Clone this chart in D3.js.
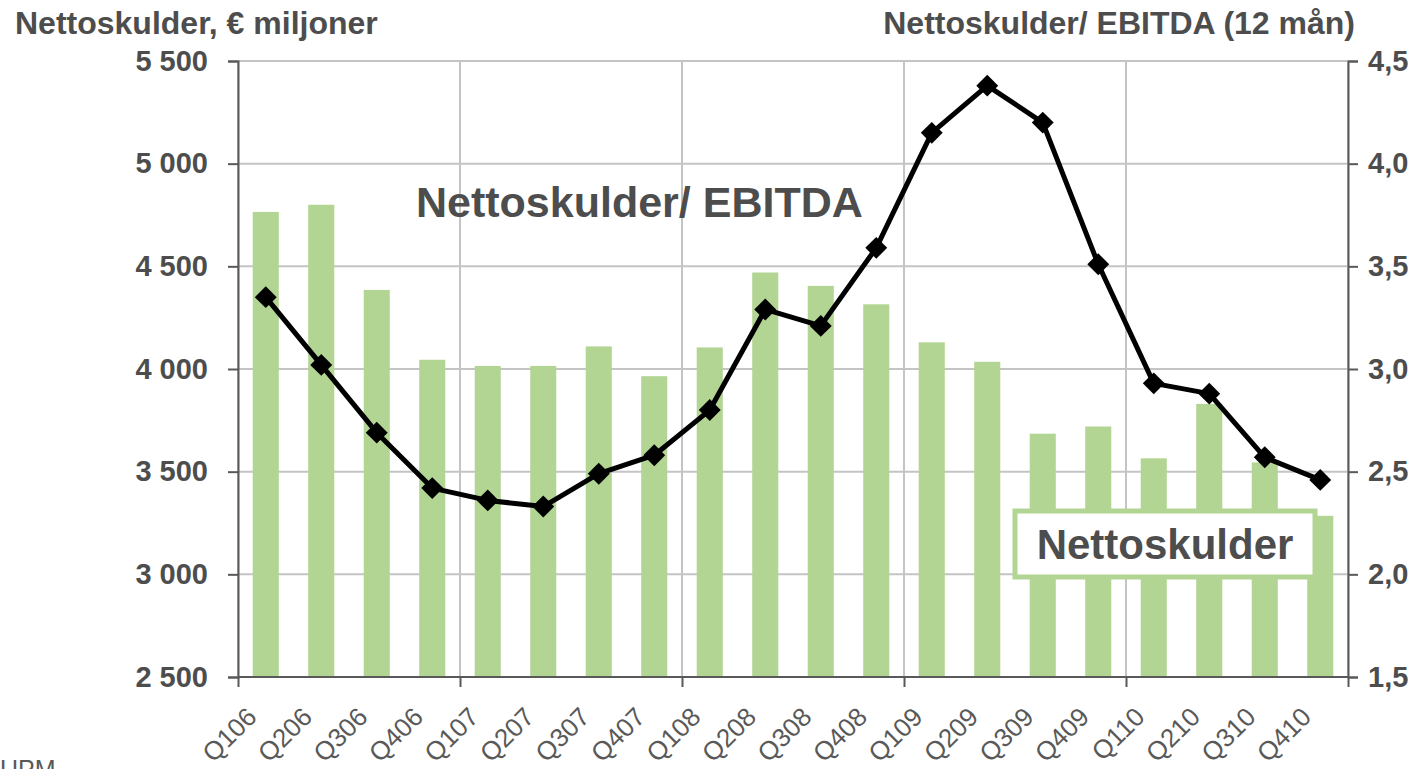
<!DOCTYPE html>
<html>
<head>
<meta charset="utf-8">
<script src="https://cdn.jsdelivr.net/npm/d3@7"></script>
<style>
  body { margin: 0; background: #fff; }
  text { font-family: Arial, "Liberation Sans", sans-serif; }
</style>
</head>
<body>
<svg id="drawing_region"></svg>
<script>
var quarters = ['Q106','Q206','Q306','Q406','Q107','Q207','Q307','Q407','Q108','Q208',
                'Q308','Q408','Q109','Q209','Q309','Q409','Q110','Q210','Q310','Q410'];
var netDebt = [4765, 4800, 4385, 4045, 4015, 4015, 4110, 3965, 4105, 4470,
               4405, 4315, 4130, 4035, 3685, 3720, 3565, 3830, 3545, 3285];
var debtToEbitda = [3.35, 3.02, 2.69, 2.42, 2.36, 2.33, 2.49, 2.58, 2.80, 3.29,
                    3.21, 3.59, 4.15, 4.38, 4.20, 3.51, 2.93, 2.88, 2.57, 2.46];
var leftTicks = [2500, 3000, 3500, 4000, 4500, 5000, 5500];
var rightTicks = [1.5, 2.0, 2.5, 3.0, 3.5, 4.0, 4.5];

class ComboChart {
  constructor( config ) {
    this.config = {
      parent: config.parent,
      width: config.width || 1418,
      height: config.height || 769,
      margin: config.margin
    }
    this.init();
  }

  init() {
    let self = this;
    self.svg = d3.select(self.config.parent)
        .attr('width', self.config.width)
        .attr('height', self.config.height);

    self.inner_width = self.config.width - self.config.margin.left - self.config.margin.right;
    self.inner_height = self.config.height - self.config.margin.top - self.config.margin.bottom;

    self.chart = self.svg.append('g')
        .attr('transform', `translate(${self.config.margin.left}, ${self.config.margin.top})`);

    self.xscale = d3.scaleBand()
        .domain(quarters)
        .range([0, self.inner_width])
        .paddingInner(0.53)
        .paddingOuter(0.265);

    self.yleft = d3.scaleLinear()
        .domain([2500, 5500])
        .range([self.inner_height, 0]);

    self.yright = d3.scaleLinear()
        .domain([1.5, 4.5])
        .range([self.inner_height, 0]);
  }

  render() {
    let self = this;
    let slot = self.inner_width / quarters.length;
    let textColor = '#4d4d4d';

    // horizontal grid
    self.chart.append('g')
        .selectAll('line')
        .data(leftTicks)
        .join('line')
        .attr('x1', 0).attr('x2', self.inner_width)
        .attr('y1', d => self.yleft(d)).attr('y2', d => self.yleft(d))
        .attr('stroke', '#c4c4c4').attr('stroke-width', 2);

    // vertical grid every 4 quarters
    let vgrid = d3.range(0, quarters.length + 1, 4);
    self.chart.append('g')
        .selectAll('line')
        .data(vgrid)
        .join('line')
        .attr('x1', d => d * slot).attr('x2', d => d * slot)
        .attr('y1', 0).attr('y2', self.inner_height)
        .attr('stroke', '#c4c4c4').attr('stroke-width', 2);

    // bars
    self.chart.selectAll('rect.bar')
        .data(netDebt)
        .join('rect')
        .attr('class', 'bar')
        .attr('x', (d, i) => self.xscale(quarters[i]))
        .attr('y', d => self.yleft(d))
        .attr('width', self.xscale.bandwidth())
        .attr('height', d => self.inner_height - self.yleft(d))
        .attr('fill', '#b3d593');

    // axes
    let axisColor = '#595959';
    let leftAxis = self.chart.append('g')
        .call(d3.axisLeft(self.yleft).tickValues(leftTicks).tickSize(10)
              .tickFormat(d => d3.format(',')(d).replace(',', ' ')));
    let rightAxis = self.chart.append('g')
        .attr('transform', `translate(${self.inner_width}, 0)`)
        .call(d3.axisRight(self.yright).tickValues(rightTicks).tickSize(10)
              .tickFormat(d => d3.format('.1f')(d).replace('.', ',')));
    let bottomAxis = self.chart.append('g')
        .attr('transform', `translate(0, ${self.inner_height})`)
        .call(d3.axisBottom(d3.scaleLinear().domain([0, quarters.length]).range([0, self.inner_width]))
              .tickValues(vgrid).tickSize(10).tickFormat(''));

    [leftAxis, rightAxis, bottomAxis].forEach(a => {
      a.select('.domain').attr('stroke', axisColor).attr('stroke-width', 2);
      a.selectAll('.tick line').attr('stroke', axisColor).attr('stroke-width', 2);
    });
    leftAxis.selectAll('.tick text')
        .attr('x', -30)
        .attr('font-size', 29).attr('font-weight', 'bold').attr('fill', textColor);
    rightAxis.selectAll('.tick text')
        .attr('x', 20)
        .attr('font-size', 29).attr('font-weight', 'bold').attr('fill', textColor);
    bottomAxis.select('.domain').attr('d', `M0,0H${self.inner_width}`);

    // quarter labels
    self.chart.append('g')
        .selectAll('text')
        .data(quarters)
        .join('text')
        .attr('text-anchor', 'end')
        .attr('font-size', 26)
        .attr('fill', '#595959')
        .attr('transform', d => `translate(${self.xscale(d) + self.xscale.bandwidth() / 2 - 14}, ${self.inner_height + 35}) rotate(-45)`)
        .attr('dy', '0.35em')
        .text(d => d);

    // line
    let line = d3.line()
        .x((d, i) => self.xscale(quarters[i]) + self.xscale.bandwidth() / 2)
        .y(d => self.yright(d));
    self.chart.append('path')
        .datum(debtToEbitda)
        .attr('d', line)
        .attr('fill', 'none')
        .attr('stroke', '#000')
        .attr('stroke-width', 5)
        .attr('stroke-linejoin', 'round');

    let diamond = d3.symbol().type(d3.symbolSquare).size(240);
    self.chart.selectAll('path.marker')
        .data(debtToEbitda)
        .join('path')
        .attr('class', 'marker')
        .attr('d', diamond)
        .attr('transform', (d, i) => `translate(${self.xscale(quarters[i]) + self.xscale.bandwidth() / 2}, ${self.yright(d)}) rotate(45)`)
        .attr('fill', '#000');

    // labels in the plot
    self.svg.append('text')
        .attr('x', 416).attr('y', 217)
        .attr('font-size', 43).attr('font-weight', 'bold').attr('fill', textColor)
        .text('Nettoskulder/ EBITDA');

    self.svg.append('rect')
        .attr('x', 1015).attr('y', 511)
        .attr('width', 300).attr('height', 66)
        .attr('fill', '#fff')
        .attr('stroke', '#b3d593').attr('stroke-width', 5);
    self.svg.append('text')
        .attr('x', 1165).attr('y', 559)
        .attr('text-anchor', 'middle')
        .attr('font-size', 42).attr('font-weight', 'bold').attr('fill', textColor)
        .text('Nettoskulder');

    // titles
    self.svg.append('text')
        .attr('x', 15).attr('y', 34)
        .attr('font-size', 32).attr('font-weight', 'bold').attr('fill', textColor)
        .text('Nettoskulder, € miljoner');
    self.svg.append('text')
        .attr('x', 1355).attr('y', 34)
        .attr('text-anchor', 'end')
        .attr('font-size', 32).attr('font-weight', 'bold').attr('fill', textColor)
        .text('Nettoskulder/ EBITDA (12 mån)');

    self.svg.append('text')
        .attr('x', 0).attr('y', 778)
        .attr('font-size', 25).attr('fill', '#595959')
        .text('UPM');
  }
}

var config = {
  parent: '#drawing_region',
  width: 1418,
  height: 769,
  margin: {top: 61, right: 70, bottom: 92, left: 238}
};

const chart = new ComboChart( config );
chart.render();
</script>
</body>
</html>
